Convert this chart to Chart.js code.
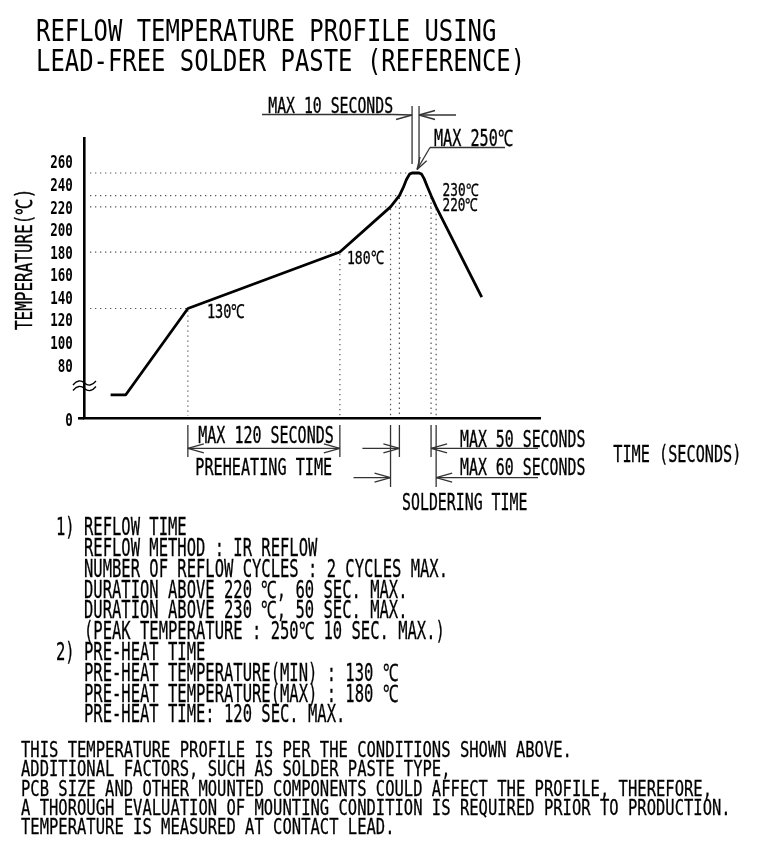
<!DOCTYPE html>
<html>
<head>
<meta charset="utf-8">
<script src="https://cdn.jsdelivr.net/npm/chart.js@4.4.1/dist/chart.umd.min.js"></script>
<style>
html,body{margin:0;padding:0;background:#fff;}
#wrap{position:relative;width:763px;height:843px;overflow:hidden;background:#fff;}
#c{position:absolute;left:0;top:0;}
.t{position:absolute;white-space:pre;font-family:"DejaVu Sans Mono",monospace;color:#000;transform-origin:0 0;}
#title{left:35.5px;top:16.3px;font-size:29.5px;line-height:30px;transform:scaleX(0.81);}
#notes{left:56px;top:517.3px;font-size:24px;line-height:20.8px;transform:scaleX(0.646);-webkit-text-stroke:0.3px #000;}
#foot{left:21px;top:740.2px;font-size:22px;line-height:19.3px;transform:scaleX(0.705);-webkit-text-stroke:0.3px #000;}
</style>
</head>
<body>
<div id="wrap">
<canvas id="c" width="763" height="843"></canvas>
<div class="t" id="title">REFLOW TEMPERATURE PROFILE USING
LEAD-FREE SOLDER PASTE (REFERENCE)</div>
<div class="t" id="notes">1) REFLOW TIME
   REFLOW METHOD : IR REFLOW
   NUMBER OF REFLOW CYCLES : 2 CYCLES MAX.
   DURATION ABOVE 220 ℃, 60 SEC. MAX.
   DURATION ABOVE 230 ℃, 50 SEC. MAX.
   (PEAK TEMPERATURE : 250℃ 10 SEC. MAX.)
2) PRE-HEAT TIME
   PRE-HEAT TEMPERATURE(MIN) : 130 ℃
   PRE-HEAT TEMPERATURE(MAX) : 180 ℃
   PRE-HEAT TIME: 120 SEC. MAX.</div>
<div class="t" id="foot">THIS TEMPERATURE PROFILE IS PER THE CONDITIONS SHOWN ABOVE.
ADDITIONAL FACTORS, SUCH AS SOLDER PASTE TYPE,
PCB SIZE AND OTHER MOUNTED COMPONENTS COULD AFFECT THE PROFILE, THEREFORE,
A THOROUGH EVALUATION OF MOUNTING CONDITION IS REQUIRED PRIOR TO PRODUCTION.
TEMPERATURE IS MEASURED AT CONTACT LEAD.</div>
</div>
<script>
// ---------------- DATA ----------------
const timeSec = [21, 33, 82, 202, 242, 249, 252, 254.5, 257, 259, 264.5, 266.5, 268.5, 271, 274, 278, 314];
const tempC   = [35, 35, 130, 180, 220, 230, 237, 244, 249, 250, 250, 249, 245, 238, 230, 220, 140];
const yTickValues = [0, 80, 100, 120, 140, 160, 180, 200, 220, 240, 260];
const yTickLabels = ['0', '80', '100', '120', '140', '160', '180', '200', '220', '240', '260'];
const guideTemps    = [130, 180, 220, 230, 250];
const guideRiseTime = [82, 202, 242, 249, 259];
const guideFallTime = [null, null, 278, 274, null];
const guideDrop     = [true, true, true, true, false];
const preheatWindow  = [82, 202];    // MAX 120 SECONDS
const above230Window = [249, 274];   // MAX 50 SECONDS
const above220Window = [242, 278];   // MAX 60 SECONDS
const peakWindow     = [259, 264.5]; // MAX 10 SECONDS
const timeMax = 360;

// axis break: values below 80 are compressed so that 0 sits just under the break
const BREAK_TOP = 80, AXIS_ZERO = 33;
function breakY(v){ return v >= BREAK_TOP ? v : AXIS_ZERO + v * (BREAK_TOP - AXIS_ZERO) / BREAK_TOP; }

// ---------------- DRAW HELPERS ----------------
const FONT = '"DejaVu Sans Mono", monospace';
function fitText(ctx, str, x, base, cap, width, opt){
  opt = opt || {};
  const size = cap / 0.729;
  ctx.save();
  ctx.font = (opt.weight || 'normal') + ' ' + size + 'px ' + FONT;
  ctx.textAlign = 'left'; ctx.textBaseline = 'alphabetic';
  const m = ctx.measureText(str);
  const ink = m.actualBoundingBoxLeft + m.actualBoundingBoxRight;
  const sx = opt.sx ? opt.sx : width / ink;
  ctx.translate(x, base);
  if (opt.rot) ctx.rotate(opt.rot);
  ctx.scale(sx, 1);
  ctx.fillStyle = '#000'; ctx.strokeStyle = '#000'; ctx.lineWidth = opt.stroke == null ? 0.35 : opt.stroke;
  const ox = opt.right ? -m.actualBoundingBoxRight : m.actualBoundingBoxLeft;
  ctx.fillText(str, ox, 0);
  if (ctx.lineWidth > 0 && opt.stroke !== 0) ctx.strokeText(str, ox, 0);
  ctx.restore();
}
function seg(ctx, x1, y1, x2, y2){ ctx.beginPath(); ctx.moveTo(x1, y1); ctx.lineTo(x2, y2); ctx.stroke(); }
function hArrow(ctx, tipX, y, dir){ // dir=+1 barbs to the right (points left)
  seg(ctx, tipX, y, tipX + dir * 16, y - 4.5);
  seg(ctx, tipX, y, tipX + dir * 16, y + 4.5);
}

const drawing = {
  id: 'drawing',
  beforeDatasetsDraw(chart){
    const ctx = chart.ctx, xs = chart.scales.x, ys = chart.scales.y;
    const X = v => xs.getPixelForValue(v), Y = v => ys.getPixelForValue(breakY(v));
    const left = chart.chartArea.left, bottom = chart.chartArea.bottom;
    ctx.save();
    ctx.strokeStyle = '#555'; ctx.lineWidth = 1.2; ctx.setLineDash([1.3, 3.7]);
    guideTemps.forEach((T, i) => {
      const y = Y(T);
      const end = guideFallTime[i] != null ? guideFallTime[i] : guideRiseTime[i];
      seg(ctx, left + 6, y, X(end), y);
      if (guideDrop[i]) {
        [guideRiseTime[i], guideFallTime[i]].forEach(t => {
          if (t != null) seg(ctx, X(t), y + 2, X(t), bottom - 2);
        });
      }
    });
    ctx.restore();
  },
  afterDraw(chart){
    const ctx = chart.ctx, xs = chart.scales.x, ys = chart.scales.y;
    const X = v => xs.getPixelForValue(v), Y = v => ys.getPixelForValue(breakY(v));
    const left = chart.chartArea.left, bottom = chart.chartArea.bottom;
    ctx.save();
    // x axis stub left of the y axis
    ctx.strokeStyle = '#000'; ctx.lineWidth = 2.6;
    seg(ctx, left - 6, bottom + 0.3, left, bottom + 0.3);
    // axis break symbol
    ctx.lineWidth = 1.3;
    [383, 388.5].forEach(y => {
      ctx.beginPath(); ctx.moveTo(73, y + 2);
      ctx.bezierCurveTo(77, y - 3, 81, y - 3, 84.5, y);
      ctx.bezierCurveTo(88, y + 3, 92, y + 3, 96, y - 2);
      ctx.stroke();
    });
    // y tick labels
    ys.ticks.forEach((tk, i) => {
      const py = ys.getPixelForValue(tk.value);
      fitText(ctx, yTickLabels[i], 72, py + 6.7 + (i === 0 ? 1 : 0), 13.4, 0, {sx: 0.68, right: true, weight: 'bold', stroke: 0});
    });
    // axis title
    fitText(ctx, 'TEMPERATURE(℃)', 32, 330, 16.5, 138, {rot: -Math.PI / 2});

    // point labels
    fitText(ctx, '130℃', X(preheatWindow[0]) + 20.5, Y(130) + 10, 14, 36.5);
    fitText(ctx, '180℃', X(preheatWindow[1]) + 8.5, Y(180) + 11.5, 13.5, 35);
    fitText(ctx, '230℃', 443.3, Y(230) + 0.5, 12.5, 35);
    fitText(ctx, '220℃', 443.3, Y(220) + 4.5, 13, 35);

    // dimension lines
    ctx.strokeStyle = '#333'; ctx.lineWidth = 1.3;
    // preheat
    let a = X(preheatWindow[0]), b = X(preheatWindow[1]);
    seg(ctx, a, 425, a, 457); seg(ctx, b, 425, b, 457);
    seg(ctx, a, 448.3, b, 448.3); hArrow(ctx, a, 448.3, 1); hArrow(ctx, b, 448.3, -1);
    // above 230 (50 s)
    a = X(above230Window[0]); b = X(above230Window[1]);
    seg(ctx, a, 425, a, 457); seg(ctx, b, 425, b, 457);
    seg(ctx, a - 37, 448.3, a, 448.3); hArrow(ctx, a, 448.3, -1);
    seg(ctx, b, 448.3, 538, 448.3); hArrow(ctx, b, 448.3, 1);
    // above 220 (60 s)
    a = X(above220Window[0]); b = X(above220Window[1]);
    seg(ctx, a, 425, a, 487); seg(ctx, b, 425, b, 487);
    seg(ctx, a - 37, 477.7, a, 477.7); hArrow(ctx, a, 477.7, -1);
    seg(ctx, b, 477.7, 538, 477.7); hArrow(ctx, b, 477.7, 1);
    // peak (10 s)
    a = X(peakWindow[0]); b = X(peakWindow[1]);
    seg(ctx, a, 106, a, 164); seg(ctx, b, 106, b, 167);
    seg(ctx, 262, 114.5, 393, 114.5); seg(ctx, 393, 114.5, a, 115);
    seg(ctx, a, 115, a - 16, 119.5);
    seg(ctx, b, 115, b + 37, 115); hArrow(ctx, b, 115, 1);
    // MAX 250 leader
    const tipX = (a + b) / 2 + 1.5, tipY = Y(250) - 3.5;
    seg(ctx, 430, 147.5, 505, 147.5);
    seg(ctx, 430, 147.5, tipX, tipY);
    const ang = Math.atan2(147.5 - tipY, 430 - tipX);
    [-0.3, 0.3].forEach(d => seg(ctx, tipX, tipY, tipX + 13 * Math.cos(ang + d), tipY + 13 * Math.sin(ang + d)));

    // dimension texts
    fitText(ctx, 'MAX 10 SECONDS', 268.3, 113, 15, 124.5);
    fitText(ctx, 'MAX 250℃', 434, 146, 16.5, 78.5);
    fitText(ctx, 'MAX 120 SECONDS', 198.3, 443.3, 16.5, 135);
    fitText(ctx, 'PREHEATING TIME', 196.7, 475, 16.5, 135);
    fitText(ctx, 'MAX 50 SECONDS', 460, 446.7, 16.5, 125);
    fitText(ctx, 'MAX 60 SECONDS', 460, 475, 16.5, 125);
    fitText(ctx, 'TIME (SECONDS)', 613.3, 461.7, 16.5, 125);
    fitText(ctx, 'SOLDERING TIME', 402.7, 510, 17, 124);
    ctx.restore();
  }
};

new Chart(document.getElementById('c'), {
  type: 'line',
  data: {
    datasets: [{
      data: timeSec.map((t, i) => ({x: t, y: breakY(tempC[i])})),
      borderColor: '#000', borderWidth: 2.8, pointRadius: 0, tension: 0, fill: false,
      borderJoinStyle: 'round'
    }]
  },
  options: {
    responsive: false, animation: false, devicePixelRatio: 1,
    layout: {padding: {left: 84, top: 138, right: 223, bottom: 425}},
    plugins: {legend: {display: false}, tooltip: {enabled: false}},
    scales: {
      x: {
        type: 'linear', min: 0, max: timeMax,
        grid: {display: false}, ticks: {display: false},
        border: {display: true, color: '#000', width: 2.6},
        afterFit(s){ s.height = 0; }
      },
      y: {
        type: 'linear', min: AXIS_ZERO, max: 281,
        grid: {display: false}, ticks: {display: false},
        border: {display: true, color: '#000', width: 2.6},
        afterFit(s){ s.width = 0; },
        afterBuildTicks(s){ s.ticks = yTickValues.map(v => ({value: breakY(v)})); }
      }
    }
  },
  plugins: [drawing]
});
</script>
</body>
</html>
